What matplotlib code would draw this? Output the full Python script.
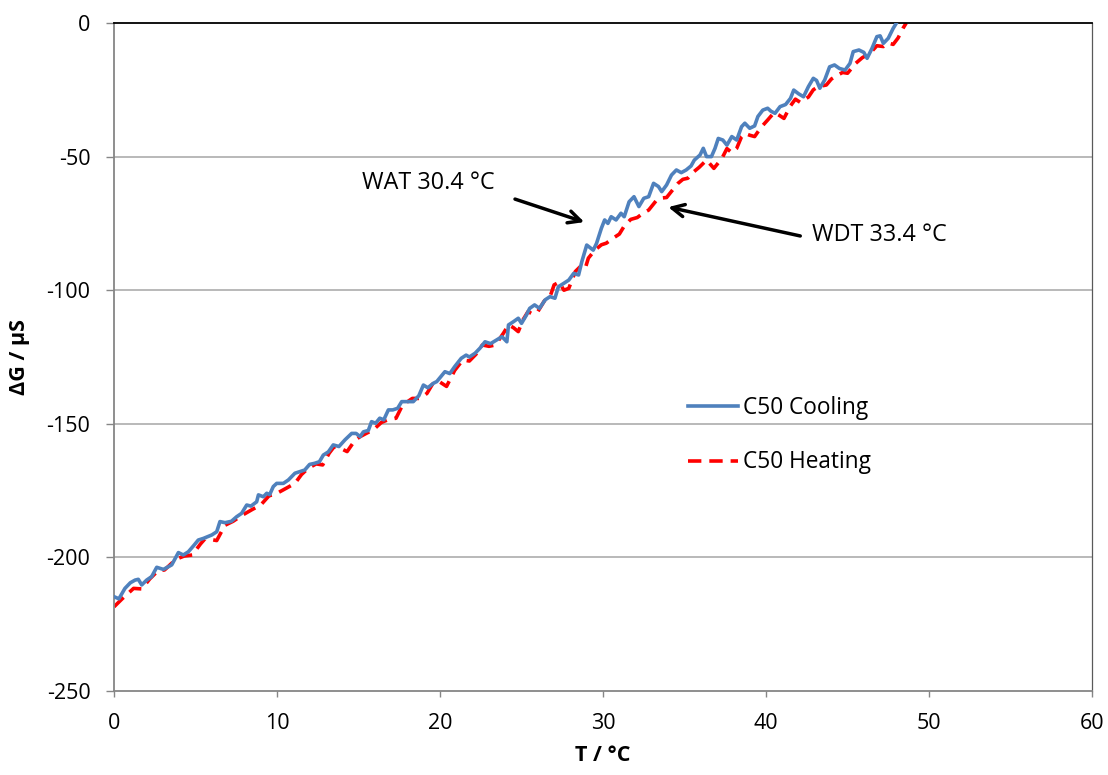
import numpy as np
import matplotlib.pyplot as plt

# Conductance change vs temperature, C50 sample, cooling and heating runs
cool_T = [0.0, 0.3, 0.67, 1.0, 1.29, 1.49, 1.7, 2.0, 2.31, 2.62, 3.03, 3.54, 3.95, 4.25,
          4.56, 4.9, 5.17, 5.48, 6.0, 6.3, 6.5, 6.81, 7.2, 7.52, 7.83, 8.14, 8.4, 8.75,
          8.86, 9.16, 9.37, 9.55, 9.77, 9.98, 10.39, 10.7, 11.1, 11.4, 11.7, 12.0, 12.3,
          12.6, 12.84, 13.15, 13.45, 13.8, 14.17, 14.58, 14.85, 15.1, 15.3, 15.6, 15.8,
          16.05, 16.3, 16.55, 16.83, 17.1, 17.4, 17.65, 17.95, 18.36, 18.7, 18.98, 19.25,
          19.6, 19.8, 20.3, 20.6, 20.9, 21.3, 21.6, 21.8, 22.15, 22.45, 22.76, 23.1, 23.48,
          23.8, 24.1, 24.2, 24.5, 24.8, 25.0, 25.3, 25.5, 25.8, 26.1, 26.45, 26.75, 27.05,
          27.26, 27.6, 27.9, 28.2, 28.5, 28.7, 29.0, 29.4, 29.6, 29.9, 30.1, 30.3, 30.5,
          30.8, 31.1, 31.3, 31.6, 31.9, 32.2, 32.5, 32.8, 33.1, 33.4, 33.6, 33.9, 34.2,
          34.5, 34.8, 35.1, 35.4, 35.6, 35.95, 36.15, 36.35, 36.65, 36.87, 37.07, 37.35,
          37.6, 37.9, 38.2, 38.5, 38.7, 39.0, 39.3, 39.5, 39.8, 40.1, 40.3, 40.55, 40.86,
          41.2, 41.5, 41.7, 42.0, 42.3, 42.6, 42.9, 43.1, 43.3, 43.6, 43.9, 44.2, 44.5,
          44.85, 45.15, 45.35, 45.7, 46.0, 46.2, 46.5, 46.8, 47.0, 47.2, 47.5, 47.8, 48.0]
cool_G = [-214.7, -215.5, -211.6, -209.5, -208.5, -208.2, -210.3, -208.5, -207.2, -203.7,
          -204.5, -202.8, -198.2, -199.1, -197.9, -195.5, -193.5, -192.9, -191.6, -190.4,
          -186.6, -187.0, -186.5, -184.8, -183.5, -180.4, -180.8, -179.2, -176.6, -177.3,
          -176.0, -176.5, -173.5, -172.3, -172.3, -171.0, -168.5, -167.9, -167.3, -165.2,
          -164.8, -164.2, -161.7, -160.5, -157.9, -158.5, -156.0, -153.6, -153.6, -154.8,
          -153.0, -152.5, -149.2, -149.8, -147.9, -148.5, -144.8, -144.8, -144.2, -141.7,
          -141.7, -141.7, -139.5, -135.5, -136.5, -134.8, -134.2, -130.5, -131.2, -128.6,
          -125.5, -124.3, -125.0, -123.6, -121.7, -119.3, -120.0, -118.6, -117.4, -119.3,
          -113.0, -111.8, -110.5, -112.4, -109.3, -106.8, -105.5, -106.8, -103.6, -102.4,
          -103.0, -98.7, -97.4, -96.2, -93.7, -94.3, -89.3, -83.1, -85.0, -82.5, -76.8,
          -73.7, -75.0, -72.5, -73.7, -71.2, -72.5, -66.9, -65.0, -68.7, -65.6, -65.0,
          -60.0, -61.2, -63.1, -60.6, -56.9, -55.0, -56.0, -55.0, -53.5, -51.3, -49.4,
          -46.9, -50.0, -50.0, -46.9, -43.2, -43.8, -45.7, -42.5, -43.8, -38.8, -37.5,
          -39.4, -38.5, -35.0, -32.6, -31.9, -33.0, -33.8, -31.3, -30.5, -28.2, -25.1,
          -26.5, -27.6, -23.8, -20.7, -21.5, -24.4, -21.3, -16.4, -15.7, -17.0, -17.6,
          -15.1, -10.7, -10.1, -11.0, -13.2, -9.5, -5.1, -4.8, -7.6, -5.7, -2.0, 0.0]

heat_T = [0.0, 0.5, 1.2, 1.7, 2.2, 2.7, 3.1, 3.8, 4.3, 4.8, 5.3, 5.6, 6.3, 6.8, 7.3, 7.9,
          8.5, 9.0, 9.5, 10.0, 10.6, 11.1, 11.5, 11.9, 12.4, 12.8, 13.2, 13.5, 14.0, 14.3,
          14.8, 15.1, 15.5, 15.9, 16.4, 16.8, 17.3, 17.7, 18.3, 18.8, 19.2, 19.6, 20.0,
          20.4, 20.9, 21.4, 21.8, 22.2, 22.6, 23.0, 23.4, 23.9, 24.2, 24.5, 24.8, 25.1,
          25.4, 25.7, 26.0, 26.4, 26.75, 27.0, 27.3, 27.6, 27.9, 28.3, 28.6, 28.9, 29.1,
          29.5, 29.9, 30.2, 30.6, 31.0, 31.3, 31.7, 32.1, 32.5, 32.8, 33.3, 33.6, 33.9,
          34.2, 34.6, 34.9, 35.2, 35.5, 35.9, 36.35, 36.6, 36.8, 37.3, 37.6, 37.9, 38.2,
          38.5, 38.7, 39.0, 39.3, 39.7, 40.1, 40.5, 40.8, 41.1, 41.5, 41.8, 42.1, 42.6,
          42.9, 43.2, 43.7, 44.0, 44.3, 44.7, 45.0, 45.5, 45.9, 46.4, 46.8, 47.2, 47.5,
          47.8, 48.1, 48.4, 48.6]
heat_G = [-218.5, -215.5, -211.6, -211.8, -208.0, -205.0, -204.7, -200.7, -199.5, -199.1,
          -195.0, -192.9, -193.7, -188.0, -186.5, -184.1, -182.0, -180.4, -177.0, -176.0,
          -174.0, -172.3, -169.0, -166.7, -165.0, -165.4, -161.0, -158.6, -159.5, -160.4,
          -156.0, -154.8, -153.5, -152.3, -149.5, -148.5, -147.9, -143.0, -140.5, -140.5,
          -138.6, -134.5, -134.4, -136.0, -130.0, -126.1, -126.5, -124.0, -120.5, -121.0,
          -120.5, -116.0, -113.0, -114.0, -115.5, -111.0, -108.0, -109.0, -108.0, -104.0,
          -102.4, -98.0, -97.0, -100.0, -99.3, -93.0, -91.2, -92.0, -88.0, -85.0, -83.0,
          -82.4, -80.6, -79.0, -76.0, -73.5, -72.8, -71.0, -70.0, -66.2, -65.5, -65.3,
          -63.0, -60.0, -58.5, -58.1, -56.0, -54.0, -51.3, -53.0, -54.4, -50.6, -47.0,
          -48.5, -46.9, -42.5, -41.3, -42.0, -42.5, -39.0, -36.3, -33.5, -34.5, -35.7,
          -31.0, -28.5, -29.7, -27.7, -25.0, -23.8, -23.2, -21.0, -19.8, -18.5, -18.8,
          -15.1, -13.0, -11.2, -8.5, -8.8, -7.5, -8.0, -5.6, -2.0, 0.0]

x_ticks = [0, 10, 20, 30, 40, 50, 60]
y_ticks = [-250, -200, -150, -100, -50, 0]

plt.rcParams['font.family'] = ['Open Sans', 'DejaVu Sans']
plt.rcParams['font.size'] = 15.5
plt.rcParams['axes.unicode_minus'] = False

fig = plt.figure(figsize=(11.08, 7.75), dpi=100)
ax = fig.add_axes([0.1029, 0.1084, 0.8827, 0.8619])

# grid lines behind the data
for y in y_ticks[1:-1]:
    ax.axhline(y, color='#a6a6a6', lw=1.1, zorder=0)

ax.plot(cool_T, cool_G, color='#4f81bd', lw=2.6, label='C50 Cooling',
        solid_joinstyle='round', zorder=3)
ax.plot(heat_T, heat_G, color='#ff0000', lw=2.6, dashes=(3.7, 2.2),
        label='C50 Heating', zorder=2)

ax.set_xlim(0, 60)
ax.set_ylim(-250, 0)
ax.set_xticks(x_ticks)
ax.set_yticks(y_ticks)

for side in ['left', 'bottom']:
    ax.spines[side].set_color('#868686')
    ax.spines[side].set_linewidth(1.3)
ax.spines['top'].set_color('black')
ax.spines['top'].set_linewidth(1.3)
ax.spines['right'].set_color('#595959')
ax.spines['right'].set_linewidth(0.9)

ax.tick_params(axis='x', direction='out', length=4, width=1, color='#868686', pad=12)
ax.tick_params(axis='y', direction='out', length=6, width=1, color='#868686', pad=11)

ax.set_xlabel('T / °C', fontweight='bold', labelpad=8)
ax.set_ylabel('ΔG / µS', fontweight='bold', labelpad=12)

# wax appearance / disappearance markers
ax.annotate('', xy=(28.85, -74.5), xytext=(24.6, -65.9),
            arrowprops=dict(arrowstyle='->', color='black', lw=2.5,
                            mutation_scale=22, shrinkA=0, shrinkB=0))
ax.text(15.2, -59.9, 'WAT 30.4 °C', va='center', ha='left', fontsize=16.8)
ax.annotate('', xy=(34.0, -68.9), xytext=(42.1, -79.7),
            arrowprops=dict(arrowstyle='->', color='black', lw=2.5,
                            mutation_scale=22, shrinkA=0, shrinkB=0))
ax.text(42.8, -79.3, 'WDT 33.4 °C', va='center', ha='left', fontsize=16.8)

ax.legend(loc='center left', bbox_to_anchor=(0.587, 0.383), frameon=False,
          borderpad=0, borderaxespad=0, handlelength=2.2, handletextpad=0.22,
          labelspacing=1.35, fontsize=16.3)

plt.savefig('out.png', dpi=100)
